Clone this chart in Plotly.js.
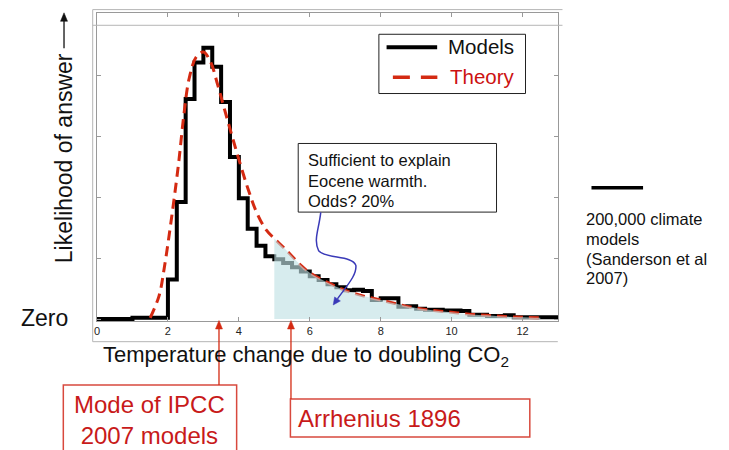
<!DOCTYPE html>
<html>
<head>
<meta charset="utf-8">
<script src="https://cdn.plot.ly/plotly-3.0.1.min.js"></script>
<style>html,body{margin:0;padding:0;background:#fff}#chart{width:729px;height:450px}</style>
</head>
<body>
<div id="chart"></div>
<script>
// Models histogram: left bin edges (deg C) and likelihood values
const modelX = [0, 1.0, 2.0, 2.25, 2.5, 2.75, 3.0, 3.25, 3.5, 3.75, 4.0, 4.25, 4.5, 4.75,
  5.0, 5.25, 5.5, 5.75, 6.0, 6.25, 6.5, 6.75, 7.0, 7.25, 7.5, 7.75, 8.0, 8.25, 8.5, 8.75,
  9.0, 9.25, 9.5, 9.75, 10.0, 10.25, 10.5, 10.75, 11.0, 11.25, 11.5, 11.75, 12.0, 12.5, 13.0];
const modelY = [0, 0.02, 0.65, 1.92, 3.61, 4.21, 4.45, 4.14, 3.56, 2.66, 1.98, 1.48, 1.20, 1.03,
  0.98, 0.92, 0.85, 0.78, 0.70, 0.64, 0.57, 0.52, 0.47, 0.48, 0.46, 0.31, 0.34, 0.34, 0.20, 0.21,
  0.17, 0.15, 0.15, 0.14, 0.14, 0.13, 0.07, 0.07, 0.05, 0.05, 0.06, 0.03, 0.03, 0.03, 0.03];

// Theory curve
const theoryX = [1.5, 1.75, 1.9, 2.1, 2.3, 2.45, 2.6, 2.8, 3.0, 3.2, 3.4, 3.6, 3.8, 4.0, 4.25,
  4.5, 4.75, 5.0, 5.25, 5.5, 5.75, 6.0, 6.5, 7.0, 7.5, 8.0, 8.5, 9.0, 9.5, 10.0, 10.5, 11.0, 11.5, 12.0, 12.5];
const theoryY = [0.02, 0.38, 0.85, 1.65, 2.55, 3.35, 3.95, 4.30, 4.38, 4.22, 3.85, 3.43, 3.02, 2.62, 2.15,
  1.75, 1.48, 1.32, 1.18, 1.03, 0.88, 0.76, 0.60, 0.47, 0.38, 0.31, 0.24, 0.18, 0.14, 0.11, 0.08, 0.06, 0.04, 0.03, 0.02];

// Shaded tail threshold (Eocene warmth)
const shadeFrom = 5.0;
// Marked sensitivities on the x axis
const ipccMode = 3.44;
const arrhenius = 5.47;

const xTicks = [0, 2, 4, 6, 8, 10, 12];
const yTicks = [0, 1, 2, 3, 4];

const shadeX = [], shadeY = [];
theoryX.forEach((x, i) => { if (x >= shadeFrom) { shadeX.push(x); shadeY.push(theoryY[i]); } });

// plot-area pixel geometry -> paper coordinates for decorations
const L = 97, R = 558.2, T = 12.7, B = 321;
const XMAX = 13;
const px = x => (x - L) / (R - L);
const py = y => (B - y) / (B - T);
const dataToPix = x => L + x * (R - L) / XMAX;

const FONT = 'Liberation Sans, Arial, Helvetica, sans-serif';
const RED = '#d42a12';
const BOXRED = '#d8493e';
const BLUE = '#3a3ab8';

const traces = [
  { x: modelX, y: modelY, type: 'scatter', mode: 'lines', name: 'Models',
    line: { color: '#000', width: 4, shape: 'hv' }, hoverinfo: 'skip' },
  { x: theoryX, y: theoryY, type: 'scatter', mode: 'lines', name: 'Theory',
    line: { color: RED, width: 3, dash: '10px,6px', shape: 'spline' }, hoverinfo: 'skip' },
  { x: shadeX, y: shadeY, type: 'scatter', mode: 'lines', name: 'tail',
    line: { width: 0, shape: 'spline' }, fill: 'tozeroy', fillcolor: 'rgba(192,225,228,0.64)',
    hoverinfo: 'skip' }
];

function pline(x0, y0, x1, y1, color, width, dash) {
  return { type: 'line', xref: 'paper', yref: 'paper', x0: px(x0), y0: py(y0), x1: px(x1), y1: py(y1),
    line: { color: color, width: width, dash: dash || 'solid' } };
}
function prect(x0, y0, x1, y1, color, width) {
  return { type: 'rect', xref: 'paper', yref: 'paper', x0: px(x0), y0: py(y0), x1: px(x1), y1: py(y1),
    line: { color: color, width: width }, fillcolor: 'rgba(0,0,0,0)' };
}
function ptri(pts, color) {
  const p = pts.map((q, i) => (i ? 'L ' : 'M ') + px(q[0]).toFixed(5) + ' ' + py(q[1]).toFixed(5)).join(' ') + ' Z';
  return { type: 'path', xref: 'paper', yref: 'paper', path: p, fillcolor: color, line: { color: color, width: 0.5 } };
}
function ptext(x, y, text, size, color, xanchor, extra) {
  return Object.assign({ xref: 'paper', yref: 'paper', x: px(x), y: py(y), text: text, showarrow: false,
    xanchor: xanchor || 'left', yanchor: 'middle', font: { family: FONT, size: size, color: color || '#111' } }, extra || {});
}

const ipccPx = dataToPix(ipccMode);
const arrPx = dataToPix(arrhenius);

const shapes = [
  // screenshot frame
  pline(92.7, 9.3, 562.7, 9.3, '#b5b5b5', 1),
  pline(92.7, 25, 562.7, 25, '#b5b5b5', 1),
  pline(92.7, 9.3, 92.7, 341.7, '#b5b5b5', 1),
  pline(92.7, 341.7, 558, 341.7, '#b5b5b5', 1),
  // y-title arrow
  pline(64, 48, 64, 19, '#111', 1.3),
  ptri([[64, 12.5], [60.5, 21], [67.5, 21]], '#111'),
  // legend
  Object.assign(prect(379, 34, 525.7, 93.3, '#222', 1), { fillcolor: '#fff' }),
  pline(386.7, 47, 437.3, 47, '#000', 4),
  pline(393, 77, 437.5, 77, RED, 3.5, '17px,11px'),
  // text box
  Object.assign(prect(298.3, 143.3, 496.7, 212, '#222', 1), { fillcolor: '#fff' }),
  // blue curved arrow
  { type: 'path', xref: 'x', yref: 'y',
    path: 'M 6.31,1.75 C 6.25,1.45 6.1,1.3 6.25,1.12 C 6.45,0.98 7.2,1.05 7.3,0.88 C 7.33,0.72 7.05,0.55 6.78,0.33',
    line: { color: BLUE, width: 1.5 } },
  ptri([[333.3, 305.0], [340.5, 300.9], [334.7, 296.9]], BLUE),
  // right side key line
  pline(591.7, 187.5, 643.3, 187.5, '#000', 3.5),
  // red boxes and their pointers
  prect(63.3, 385, 236.7, 470, BOXRED, 1.5),
  prect(290.5, 399, 530, 437, BOXRED, 1.5),
  pline(ipccPx, 385, ipccPx, 328, RED, 1.3),
  ptri([[ipccPx, 320.5], [ipccPx - 3.5, 329], [ipccPx + 3.5, 329]], RED),
  pline(arrPx, 399, arrPx, 328, RED, 1.3),
  ptri([[arrPx, 320.5], [arrPx - 3.5, 329], [arrPx + 3.5, 329]], RED)
];

const annotations = [
  ptext(64, 158, 'Likelihood of answer', 23, '#111', 'center', { textangle: -90 }),
  ptext(44, 318, 'Zero', 23, '#111', 'center'),
  ptext(101, 356, 'Temperature change due to doubling CO<sub>2</sub>', 22, '#111', 'left'),
  ptext(446, 46, 'Models', 20.5, '#111', 'left'),
  ptext(448, 76, 'Theory', 20.5, '#cc1111', 'left'),
  ptext(306, 160, 'Sufficient to explain', 16.5, '#111', 'left'),
  ptext(306, 180.5, 'Eocene warmth.', 16.5, '#111', 'left'),
  ptext(306, 200.5, 'Odds? 20%', 16.5, '#111', 'left'),
  ptext(584, 219, '200,000 climate', 16.5, '#111', 'left'),
  ptext(584, 238.7, 'models', 16.5, '#111', 'left'),
  ptext(584, 259.3, '(Sanderson et al', 16.5, '#111', 'left'),
  ptext(584, 278.3, '2007)', 16.5, '#111', 'left'),
  ptext(150, 420, 'Mode of IPCC<br>2007 models', 24, '#c81a1a', 'center'),
  ptext(296, 419, 'Arrhenius 1896', 24, '#c81a1a', 'left')
];

const layout = {
  width: 729, height: 450,
  margin: { l: L, r: 729 - R, t: T, b: 450 - B, pad: 0 },
  paper_bgcolor: '#fff', plot_bgcolor: '#fff',
  showlegend: false,
  font: { family: FONT, color: '#222' },
  xaxis: { range: [0, XMAX], tickvals: xTicks, ticktext: xTicks.map(String), ticks: 'inside', ticklen: 4,
    tickcolor: '#999', showline: true, linecolor: '#999', linewidth: 1, mirror: 'ticks',
    showgrid: false, zeroline: false, tickfont: { size: 11, color: '#222', family: FONT } },
  yaxis: { range: [-0.0328, 5.021], tickvals: yTicks, ticks: 'inside', ticklen: 4, tickcolor: '#999',
    showticklabels: false, showline: true, linecolor: '#999', linewidth: 1, mirror: 'ticks',
    showgrid: false, zeroline: false },
  shapes: shapes,
  annotations: annotations
};

Plotly.newPlot('chart', traces, layout, { displayModeBar: false, staticPlot: true });
</script>
</body>
</html>
